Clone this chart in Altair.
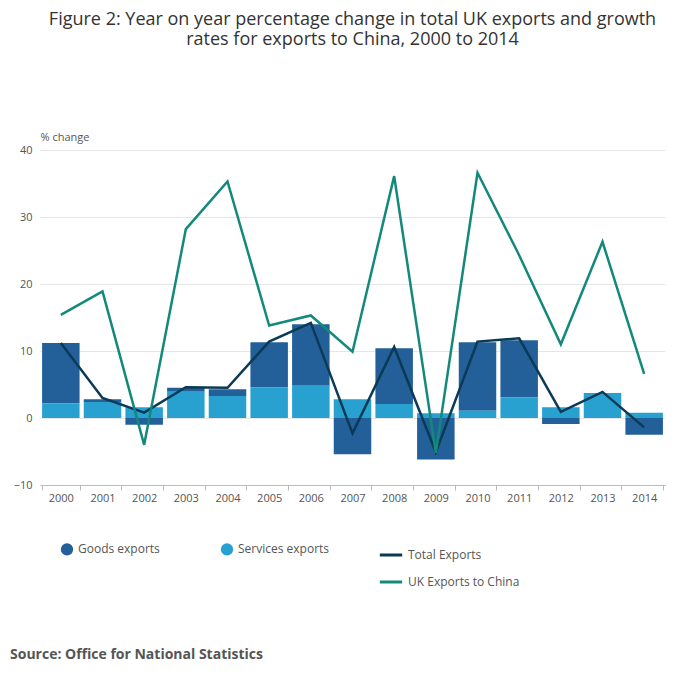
import altair as alt
import pandas as pd

years = [str(y) for y in range(2000, 2015)]
goods = [9.0, 0.4, -1.0, 0.6, 1.0, 6.7, 9.2, -5.4, 8.3, -6.2, 10.2, 8.5, -0.9, 0.1, -2.5]
services = [2.2, 2.4, 1.6, 3.9, 3.3, 4.6, 4.8, 2.8, 2.1, 0.7, 1.1, 3.1, 1.6, 3.6, 0.8]
total = [11.2, 3.0, 0.8, 4.6, 4.5, 11.4, 14.2, -2.3, 10.6, -5.1, 11.4, 11.9, 0.9, 3.9, -1.4]
china = [15.4, 18.9, -4.0, 28.2, 35.3, 13.8, 15.3, 9.9, 36.1, -5.2, 36.6, 24.3, 11.0, 26.3, 6.6]

bars = pd.DataFrame({
    "year": years * 2,
    "value": goods + services,
    "series": ["Goods exports"] * 15 + ["Services exports"] * 15,
    "ord": [2] * 15 + [1] * 15,
})
lines = pd.DataFrame({
    "year": years * 2,
    "value": total + china,
    "series": ["Total Exports"] * 15 + ["UK Exports to China"] * 15,
})

x = alt.X("year:O", title=None, scale=alt.Scale(paddingInner=0.1, paddingOuter=0.05),
          axis=alt.Axis(labelAngle=0, labelColor="#555", labelFontSize=11, domainColor="#bbb",
                        tickColor="#bbb", tickBand="extent"))
yaxis = alt.Axis(title="% change", values=[-10, 0, 10, 20, 30, 40], titleAngle=0,
                 titleX=0, titleY=-8, titleAlign="left", titleFontWeight="normal",
                 titleColor="#555", titleFontSize=11, labelColor="#555", labelFontSize=11,
                 domain=False, ticks=False, gridColor="#e6e6e6", labelPadding=8)
yscale = alt.Scale(domain=[-10, 40])

bar = alt.Chart(bars).mark_bar().encode(
    x=x, y=alt.Y("value:Q", stack="zero", scale=yscale, axis=yaxis),
    color=alt.Color("series:N", scale=alt.Scale(domain=["Goods exports", "Services exports"],
                                                 range=["#23609a", "#29a1d0"]),
                    legend=alt.Legend(title=None, orient="none", legendX=20, legendY=392,
                                      direction="horizontal", symbolType="circle", symbolSize=150,
                                      columnPadding=60, labelFontSize=12, labelColor="#555")),
    order=alt.Order("ord:Q"),
)

line = alt.Chart(lines).mark_line(strokeWidth=2.5).encode(
    x=x, y=alt.Y("value:Q", scale=yscale, axis=yaxis),
    stroke=alt.Stroke("series:N", scale=alt.Scale(domain=["Total Exports", "UK Exports to China"],
                                                   range=["#0b3a56", "#13897b"]),
                      legend=alt.Legend(title=None, orient="none", legendX=338, legendY=392,
                                        symbolType="stroke", symbolSize=500, symbolStrokeWidth=3,
                                        labelFontSize=12, labelColor="#555", rowPadding=8)),
)

source = alt.Chart(pd.DataFrame({"t": ["Source: Office for National Statistics"]})).mark_text(
    align="left", fontSize=14, fontWeight="bold", color="#555", font="Open Sans"
).encode(text="t:N", x=alt.value(-30), y=alt.value(505))

chart = alt.layer(bar, line, source).properties(
    width=625, height=335,
    autosize=alt.AutoSizeParams(type="none"),
    padding={"left": 32, "top": 142, "right": 27, "bottom": 189},
    title=alt.Title(["Figure 2: Year on year percentage change in total UK exports and growth",
                     "rates for exports to China, 2000 to 2014"],
                    fontSize=18, fontWeight="normal", color="#333", anchor="middle", offset=82,
                    font="Open Sans"),
).configure(font="Open Sans").configure_view(stroke=None)

chart.save("out.html", embed_options={"renderer": "svg", "actions": False})
